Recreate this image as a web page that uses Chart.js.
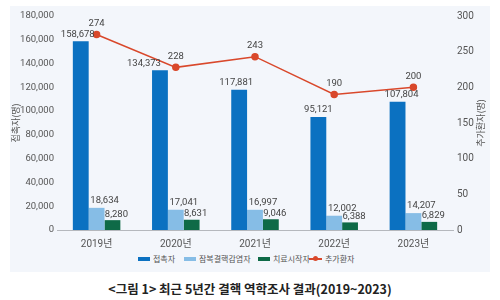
<!DOCTYPE html>
<html>
<head>
<meta charset="utf-8">
<script src="https://cdn.jsdelivr.net/npm/chart.js@4.4.0/dist/chart.umd.min.js"></script>
<style>
  html, body { margin: 0; padding: 0; background: #ffffff; width: 500px; height: 300px; overflow: hidden; }
  #panel { position: absolute; left: 10px; top: 6px; width: 480px; height: 266px; background: #f3f6fb; }
  #wrap { position: absolute; left: 0; top: 0; width: 500px; height: 250px; }
  #legend { position: absolute; left: 0; top: 253px; width: 500px; height: 12px; font: 8px 'Noto Sans CJK KR', sans-serif; color: #555; }
  .item { position: absolute; top: 0; line-height: 12px; white-space: nowrap; }
  .box { display: inline-block; width: 12px; height: 4px; vertical-align: middle; margin-right: 3px; position: relative; top: -1px; }
  .ln { display: inline-block; width: 13px; height: 2px; background: #d9482b; vertical-align: middle; margin-right: 3px; position: relative; top: -1px; }
  .ln::after { content: ''; position: absolute; left: 4px; top: -2px; width: 5px; height: 5px; border-radius: 50%; background: #d9482b; }
  #title { position: absolute; left: 0; top: 279px; width: 500px; text-align: center; font: bold 12.5px 'Noto Sans CJK KR', sans-serif; color: #222; }
</style>
</head>
<body>
<div id="panel"></div>
<div id="wrap"><canvas id="c" width="500" height="250"></canvas></div>
<div id="legend">
  <span class="item" style="left:138px"><span class="box" style="background:#0b71c1"></span>접촉자</span>
  <span class="item" style="left:184px"><span class="box" style="background:#86bde6"></span>잠복결핵감염자</span>
  <span class="item" style="left:258px"><span class="box" style="background:#0e6a47"></span>치료시작자</span>
  <span class="item" style="left:309px"><span class="ln"></span>추가환자</span>
</div>
<div id="title">&lt;그림 1&gt; 최근 5년간 결핵 역학조사 결과(2019~2023)</div>
<script>
const categories = ['2019년', '2020년', '2021년', '2022년', '2023년'];
const contacts = [158678, 134373, 117881, 95121, 107804];
const latentInfected = [18634, 17041, 16997, 12002, 14207];
const treatmentStarted = [8280, 8631, 9046, 6388, 6829];
const additionalPatients = [274, 228, 243, 190, 200];
const seriesNames = ['접촉자', '잠복결핵감염자', '치료시작자', '추가환자'];
const leftTitle = '접촉자(명)';
const rightTitle = '추가환자(명)';

const FONT = "Roboto, 'Noto Sans CJK KR', sans-serif";
const KFONT = "'Noto Sans CJK KR', sans-serif";

const labelPlugin = {
  id: 'valueLabels',
  afterDatasetsDraw(chart) {
    const ctx = chart.ctx;
    const blueDx = [-3, -16, -3, 0, 4];
    const cfg = [
      { dx: i => blueDx[i], dy: -7 },
      { dx: () => 8, dy: -7 },
      { dx: () => 4, dy: -6 },
      { dx: () => 0, dy: -11 }
    ];
    ctx.save();
    ctx.font = '9.5px ' + FONT;
    ctx.fillStyle = '#444';
    ctx.textAlign = 'center';
    ctx.textBaseline = 'middle';
    chart.data.datasets.forEach((ds, di) => {
      const meta = chart.getDatasetMeta(di);
      meta.data.forEach((el, i) => {
        const v = ds.data[i];
        ctx.fillText(v.toLocaleString('en-US'), el.x + cfg[di].dx(i), el.y + cfg[di].dy);
      });
    });
    // right axis title, reading bottom-to-top
    const ca = chart.chartArea;
    ctx.font = '9px ' + KFONT;
    ctx.fillStyle = '#555';
    ctx.translate(481, (ca.top + ca.bottom) / 2);
    ctx.rotate(-Math.PI / 2);
    ctx.fillText(rightTitle, 0, 0);
    ctx.restore();
  }
};

new Chart(document.getElementById('c'), {
  type: 'bar',
  data: {
    labels: categories,
    datasets: [
      { label: seriesNames[0], data: contacts, backgroundColor: '#0b71c1', yAxisID: 'y', order: 2 },
      { label: seriesNames[1], data: latentInfected, backgroundColor: '#86bde6', yAxisID: 'y', order: 2 },
      { label: seriesNames[2], data: treatmentStarted, backgroundColor: '#0e6a47', yAxisID: 'y', order: 2 },
      { type: 'line', label: seriesNames[3], data: additionalPatients, yAxisID: 'y1', order: 1,
        borderColor: '#d9482b', backgroundColor: '#d9482b', borderWidth: 1.5,
        pointRadius: 3, pointHoverRadius: 3, tension: 0 }
    ]
  },
  options: {
    responsive: false,
    animation: false,
    devicePixelRatio: 1,
    datasets: { bar: { categoryPercentage: 0.6, barPercentage: 1.0 } },
    layout: { padding: { top: 16, left: 10, right: 10, bottom: 0 } },
    plugins: { legend: { display: false }, tooltip: { enabled: false }, title: { display: false } },
    scales: {
      x: {
        grid: { display: false, drawTicks: false },
        border: { display: true, color: '#b5b8bd', width: 1 },
        ticks: { font: { family: FONT, size: 10 }, color: '#555', padding: 8 },
        afterFit(s) { s.height = 20; }
      },
      y: {
        position: 'left',
        min: 0, max: 180000,
        ticks: { stepSize: 20000, font: { family: FONT, size: 9.5 }, color: '#555', padding: 3,
          callback: v => v.toLocaleString('en-US') },
        grid: { display: false, drawTicks: false },
        border: { display: false },
        title: { display: true, text: leftTitle, font: { family: KFONT, size: 9 }, color: '#555', padding: 0 },
        afterFit(s) { s.width = 47; }
      },
      y1: {
        position: 'right',
        min: 0, max: 300,
        ticks: { stepSize: 50, font: { family: FONT, size: 10 }, color: '#555', padding: 4 },
        grid: { display: false, drawTicks: false },
        border: { display: false },
        afterFit(s) { s.width = 37; }
      }
    }
  },
  plugins: [labelPlugin]
});
</script>
</body>
</html>
